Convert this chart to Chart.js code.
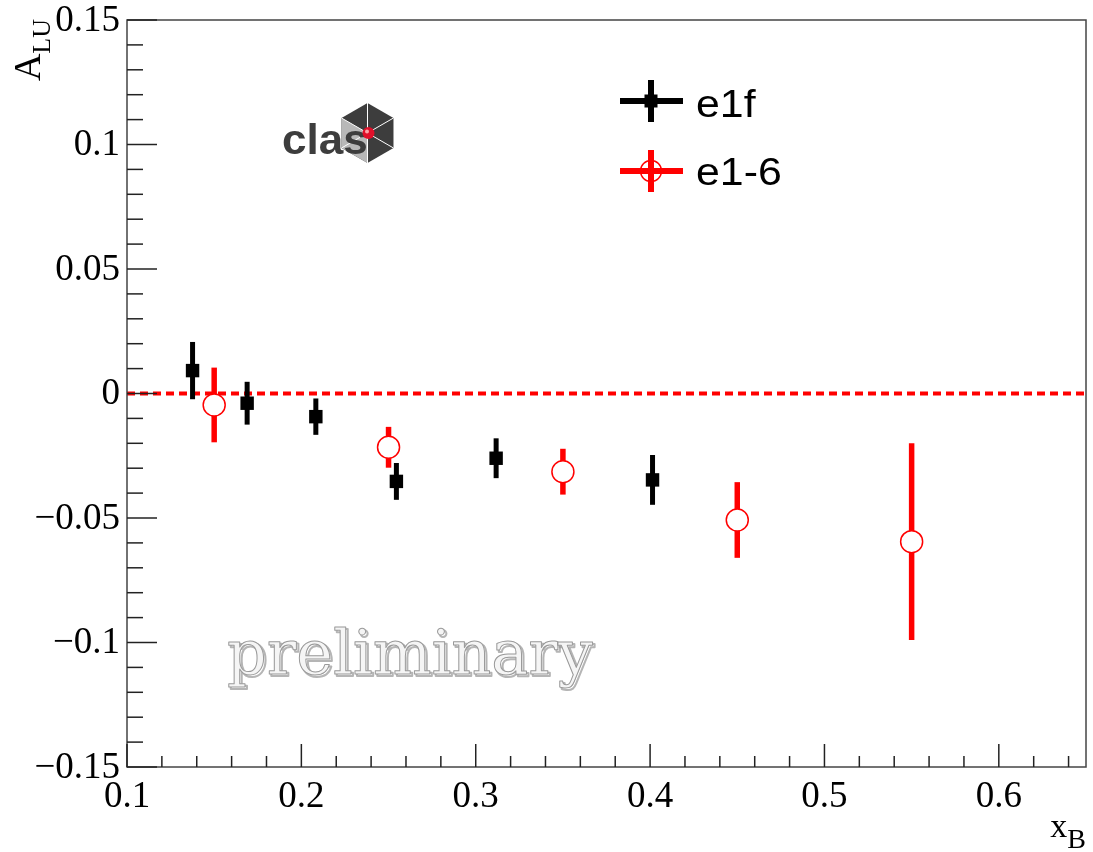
<!DOCTYPE html>
<html>
<head>
<meta charset="utf-8">
<script src="https://cdn.jsdelivr.net/npm/chart.js@4"></script>
<style>
  html, body { margin: 0; padding: 0; background: #fff; }
  #wrap { width: 1093px; height: 852px; position: relative; }
</style>
</head>
<body>
<div id="wrap"><canvas id="chart"></canvas></div>
<script>
// e1f data (x_B, A_LU, stat error)
const e1fX = [0.1376, 0.1689, 0.2083, 0.2545, 0.3117, 0.4014];
const e1fY = [0.0092, -0.0039, -0.0093, -0.0353, -0.0260, -0.0347];
const e1fErr = [0.0115, 0.0086, 0.0073, 0.0074, 0.0080, 0.0100];

// e1-6 data
const e16X = [0.15, 0.25, 0.35, 0.45, 0.55];
const e16Y = [-0.0046, -0.0216, -0.0314, -0.0508, -0.0595];
const e16Err = [0.0150, 0.0082, 0.0092, 0.0152, 0.0395];

// axis ticks
const xTicks = [0.1, 0.2, 0.3, 0.4, 0.5, 0.6];
const xTickLabels = ['0.1', '0.2', '0.3', '0.4', '0.5', '0.6'];
const yTicks = [-0.15, -0.1, -0.05, 0, 0.05, 0.1, 0.15];
const yTickLabels = ['\u22120.15', '\u22120.1', '\u22120.05', '0', '0.05', '0.1', '0.15'];

const serif = '"Liberation Serif", "Times New Roman", serif';
const sans = '"Liberation Sans", Arial, sans-serif';

function line(ctx, x1, y1, x2, y2) {
  ctx.beginPath();
  ctx.moveTo(x1, y1);
  ctx.lineTo(x2, y2);
  ctx.stroke();
}

// error bars, zero line, frame, labels, legend, logo and watermark
const rootStyle = {
  id: 'rootStyle',
  beforeDatasetsDraw(chart) {
    const ctx = chart.ctx, a = chart.chartArea;
    const xs = chart.scales.x, ys = chart.scales.y;
    ctx.save();

    // preliminary watermark
    ctx.font = '62px "DejaVu Serif", serif';
    ctx.textBaseline = 'alphabetic';
    ctx.lineJoin = 'round';
    ctx.strokeStyle = 'rgba(150,150,150,0.7)';
    ctx.lineWidth = 2;
    ctx.strokeText('preliminary', 229, 676);
    ctx.fillStyle = '#f5f5f5';
    ctx.fillText('preliminary', 227, 674);
    ctx.strokeStyle = '#9a9a9a';
    ctx.lineWidth = 1;
    ctx.strokeText('preliminary', 227, 674);

    // dashed zero line
    ctx.strokeStyle = '#ff0000';
    ctx.lineWidth = 4;
    ctx.setLineDash([8, 5]);
    const y0 = ys.getPixelForValue(0);
    line(ctx, a.left, y0, a.right, y0);
    ctx.setLineDash([]);

    // error bars
    ctx.lineCap = 'butt';
    ctx.strokeStyle = '#000';
    ctx.lineWidth = 5;
    e1fX.forEach((x, i) => {
      const px = xs.getPixelForValue(x);
      line(ctx, px, ys.getPixelForValue(e1fY[i] + e1fErr[i]), px, ys.getPixelForValue(e1fY[i] - e1fErr[i]));
    });
    ctx.strokeStyle = '#ff0000';
    ctx.lineWidth = 5.5;
    e16X.forEach((x, i) => {
      const px = xs.getPixelForValue(x);
      line(ctx, px, ys.getPixelForValue(e16Y[i] + e16Err[i]), px, ys.getPixelForValue(e16Y[i] - e16Err[i]));
    });
    ctx.restore();
  },
  afterDatasetsDraw(chart) {
    const ctx = chart.ctx, a = chart.chartArea;
    const xs = chart.scales.x, ys = chart.scales.y;
    ctx.save();

    // frame
    ctx.strokeStyle = '#444';
    ctx.lineWidth = 1.5;
    ctx.strokeRect(a.left, a.top, a.right - a.left, a.bottom - a.top);

    // y ticks (inside)
    ctx.lineWidth = 1.5;
    ctx.strokeStyle = '#222';
    for (let k = -15; k <= 15; k++) {
      const py = ys.getPixelForValue(k / 100);
      const len = (k % 5 === 0) ? 30 : 16;
      line(ctx, a.left, py, a.left + len, py);
    }
    // x ticks (inside)
    for (let k = 10; k <= 64; k += 2) {
      const px = xs.getPixelForValue(k / 100);
      const len = (k % 10 === 0) ? 23 : 11;
      line(ctx, px, a.bottom, px, a.bottom - len);
    }

    // tick labels
    ctx.fillStyle = '#000';
    ctx.font = '37px ' + serif;
    ctx.textAlign = 'right';
    ctx.textBaseline = 'middle';
    yTicks.forEach((v, i) => ctx.fillText(yTickLabels[i], 120, ys.getPixelForValue(v) + 1));
    ctx.textAlign = 'center';
    ctx.textBaseline = 'alphabetic';
    xTicks.forEach((v, i) => ctx.fillText(xTickLabels[i], xs.getPixelForValue(v), 807));

    // y title A_LU (rotated)
    ctx.save();
    ctx.translate(40, 19);
    ctx.rotate(-Math.PI / 2);
    ctx.textAlign = 'left';
    ctx.font = '26px ' + serif;
    const w2 = ctx.measureText('LU').width;
    ctx.fillText('LU', -w2, 10);
    ctx.font = '38px ' + serif;
    const w1 = ctx.measureText('A').width;
    ctx.fillText('A', -w2 - w1, 0);
    ctx.restore();

    // x title x_B
    ctx.textAlign = 'left';
    ctx.font = '28px ' + serif;
    const wb = ctx.measureText('B').width;
    ctx.fillText('B', 1086 - wb, 848);
    ctx.font = '34px ' + serif;
    const wx = ctx.measureText('x').width;
    ctx.fillText('x', 1086 - wb - wx, 837);

    // legend
    ctx.lineCap = 'butt';
    ctx.strokeStyle = '#000';
    ctx.lineWidth = 6;
    line(ctx, 620, 101, 683, 101);
    line(ctx, 651, 80, 651, 122);
    ctx.fillStyle = '#000';
    ctx.fillRect(644.5, 94.5, 13, 13);
    ctx.strokeStyle = '#ff0000';
    line(ctx, 620, 171, 683, 171);
    line(ctx, 651, 150, 651, 192);
    ctx.lineWidth = 1.5;
    ctx.beginPath();
    ctx.arc(651, 171, 10.5, 0, Math.PI * 2);
    ctx.stroke();
    ctx.fillStyle = '#000';
    ctx.font = '39px ' + sans;
    ctx.textBaseline = 'alphabetic';
    ctx.save();
    ctx.translate(696, 0);
    ctx.scale(1.1, 1);
    ctx.fillText('e1f', 0, 117);
    ctx.fillText('e1-6', 0, 185);
    ctx.restore();

    // clas logo
    const cx = 367.5, cy = 133, r = 30;
    const v = [];
    for (let k = 0; k < 6; k++) {
      const ang = -Math.PI / 2 + k * Math.PI / 3;
      v.push([cx + r * Math.cos(ang), cy + r * Math.sin(ang)]);
    }
    ctx.fillStyle = '#3d3d3d';
    ctx.beginPath();
    v.forEach((p, k) => k ? ctx.lineTo(p[0], p[1]) : ctx.moveTo(p[0], p[1]));
    ctx.closePath();
    ctx.fill();
    // lighter left sectors
    ctx.fillStyle = '#b8b8b8';
    ctx.beginPath();
    ctx.moveTo(cx, cy);
    ctx.lineTo(v[3][0], v[3][1]);
    ctx.lineTo(v[4][0], v[4][1]);
    ctx.lineTo(v[5][0], v[5][1]);
    ctx.closePath();
    ctx.fill();
    ctx.strokeStyle = '#fff';
    ctx.lineWidth = 1;
    v.forEach(p => line(ctx, cx, cy, p[0], p[1]));
    ctx.fillStyle = '#3d3d3d';
    ctx.font = 'bold 42px ' + sans;
    ctx.save();
    ctx.translate(282, 0);
    ctx.scale(1.05, 1);
    ctx.fillText('clas', 0, 154);
    ctx.restore();
    ctx.fillStyle = '#e0102a';
    ctx.beginPath();
    ctx.arc(cx + 1, cy, 6, 0, Math.PI * 2);
    ctx.fill();
    ctx.fillStyle = 'rgba(255,180,180,0.9)';
    ctx.beginPath();
    ctx.arc(cx - 0.5, cy - 1.5, 2, 0, Math.PI * 2);
    ctx.fill();

    ctx.restore();
  }
};

new Chart(document.getElementById('chart'), {
  type: 'scatter',
  data: {
    datasets: [
      {
        label: 'e1f',
        data: e1fX.map((x, i) => ({ x: x, y: e1fY[i] })),
        pointStyle: 'rect',
        pointRadius: 9.5,
        backgroundColor: '#000',
        borderColor: '#000',
        borderWidth: 0
      },
      {
        label: 'e1-6',
        data: e16X.map((x, i) => ({ x: x, y: e16Y[i] })),
        pointStyle: 'circle',
        pointRadius: 11,
        backgroundColor: '#fff',
        borderColor: '#ff0000',
        borderWidth: 1.5
      }
    ]
  },
  options: {
    responsive: true,
    maintainAspectRatio: false,
    animation: false,
    layout: { autoPadding: false, padding: { left: 127, right: 7, top: 20, bottom: 85 } },
    plugins: { legend: { display: false }, tooltip: { enabled: false } },
    scales: {
      x: { type: 'linear', min: 0.1, max: 0.65, display: false },
      y: { type: 'linear', min: -0.15, max: 0.15, display: false }
    }
  },
  plugins: [rootStyle]
});
</script>
</body>
</html>
